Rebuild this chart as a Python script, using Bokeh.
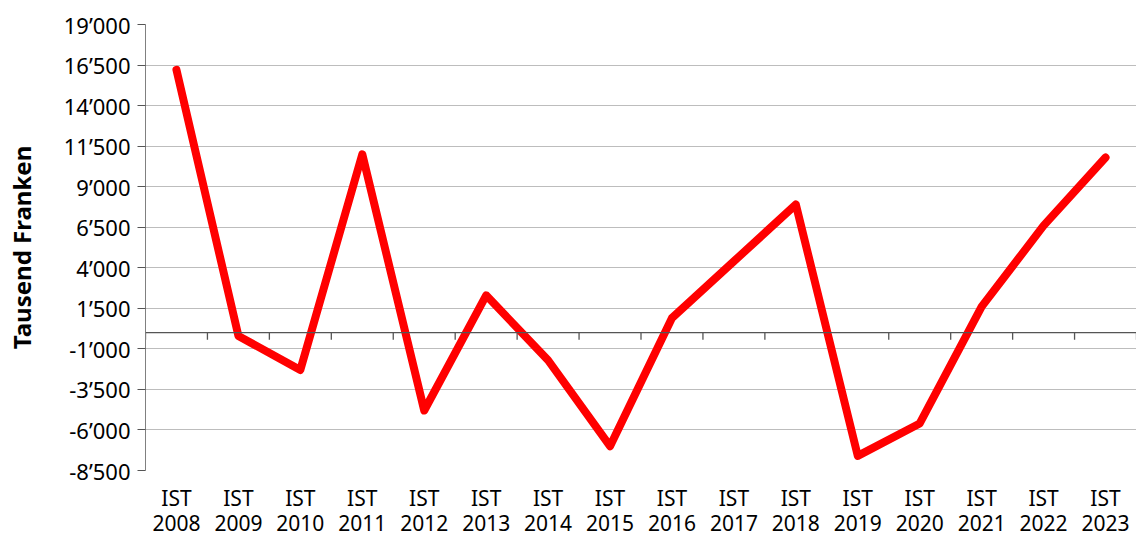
from bokeh.plotting import figure
from bokeh.models import FixedTicker, Range1d, Span
from bokeh.embed import file_html
from bokeh.resources import INLINE

categories = ["IST 2008", "IST 2009", "IST 2010", "IST 2011", "IST 2012", "IST 2013",
              "IST 2014", "IST 2015", "IST 2016", "IST 2017", "IST 2018", "IST 2019",
              "IST 2020", "IST 2021", "IST 2022", "IST 2023"]
values = [16200, -200, -2300, 11000, -4800, 2300, -1700, -7000, 900, 4400, 7900,
          -7600, -5600, 1600, 6600, 10800]
y_ticks = [-8500, -6000, -3500, -1000, 1500, 4000, 6500, 9000, 11500, 14000, 16500, 19000]
y_tick_labels = ["-8\u2019500", "-6\u2019000", "-3\u2019500", "-1\u2019000", "1\u2019500",
                 "4\u2019000", "6\u2019500", "9\u2019000", "11\u2019500", "14\u2019000",
                 "16\u2019500", "19\u2019000"]
y_title = "Tausend Franken"

FONT = "Noto Sans"

W, H = 1136, 540
BL, BT, BB = 145, 24, 70
n = len(categories)
xs = [i + 0.5 for i in range(n)]
boundaries = list(range(n + 1))

p = figure(width=W, height=H, output_backend="svg", toolbar_location=None,
           x_range=Range1d(0, n), y_range=Range1d(y_ticks[0], y_ticks[-1]),
           min_border_left=BL, min_border_right=0, min_border_top=BT, min_border_bottom=BB)
p.outline_line_color = None
p.background_fill_color = "white"
p.border_fill_color = "white"

# bottom axis: labels only
xa = p.xaxis[0]
xa.ticker = FixedTicker(ticks=xs)
xa.major_label_overrides = {x: c.replace(" ", "\n") for x, c in zip(xs, categories)}
xa.axis_line_color = None
xa.major_tick_line_color = None
xa.minor_tick_line_color = None
xa.major_tick_out = 0
xa.major_tick_in = 0
xa.major_label_standoff = 13
xa.major_label_text_font = FONT
xa.major_label_text_font_size = "21px"
xa.major_label_text_line_height = 0.9
xa.major_label_text_color = "black"

# y axis
ya = p.yaxis[0]
ya.ticker = FixedTicker(ticks=y_ticks)
ya.major_label_overrides = {t: l for t, l in zip(y_ticks, y_tick_labels)}
ya.axis_line_color = "#808080"
ya.major_tick_line_color = "#555555"
ya.minor_tick_line_color = None
ya.major_tick_out = 8
ya.major_tick_in = 0
ya.major_label_standoff = 7
ya.major_label_text_font = FONT
ya.major_label_text_font_size = "22px"
ya.major_label_text_color = "black"
ya.axis_label = y_title
ya.axis_label_text_font = FONT
ya.axis_label_text_font_size = "24px"
ya.axis_label_text_font_style = "bold"
ya.axis_label_text_color = "black"
ya.axis_label_standoff = 23

p.xgrid.visible = False
p.ygrid.ticker = FixedTicker(ticks=y_ticks)
p.ygrid.grid_line_color = "#7a7a7a"
p.ygrid.grid_line_dash = "1 1"
p.ygrid.grid_line_width = 1

# zero line with category boundary ticks (tick length 7px converted to data units)
frame_h = H - BT - BB
tick_len = 7 * (y_ticks[-1] - y_ticks[0]) / frame_h
p.add_layout(Span(location=0, dimension="width", line_color="#555555", line_width=1.3))
p.segment(x0=boundaries, y0=[0] * len(boundaries), x1=boundaries,
          y1=[-tick_len] * len(boundaries), line_color="#555555", line_width=1.3)

p.line(xs, values, line_color="#ff0000", line_width=8, line_cap="round", line_join="round")

open("out.html", "w").write(file_html(p, INLINE))
